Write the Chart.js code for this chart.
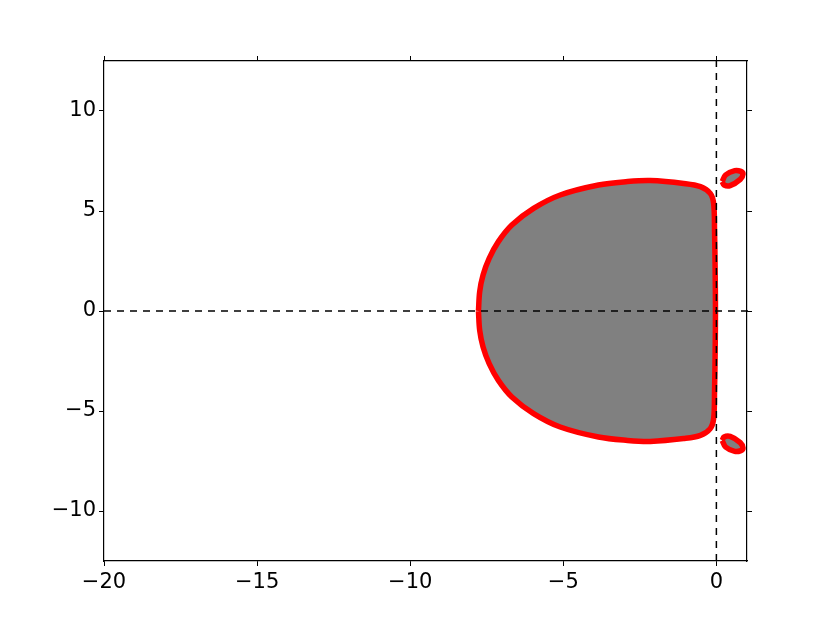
<!DOCTYPE html>
<html>
<head>
<meta charset="utf-8">
<script src="https://cdn.jsdelivr.net/npm/chart.js@4/dist/chart.umd.min.js"></script>
<style>
  html, body { margin: 0; padding: 0; background: #fff; }
  canvas { display: block; }
</style>
</head>
<body>
<canvas id="chart" width="830" height="623"></canvas>
<script>
// stability region boundary (upper half, left to right), mirrored below
const mainX = [-7.77, -7.73, -7.62, -7.42, -7.12, -6.68, -5.97, -5.1, -3.85, -2.9, -2.16, -1.07, -0.52, -0.2, -0.09, -0.06, -0.04, -0.03];
const mainY = [0, 0.97, 1.8, 2.63, 3.47, 4.3, 5.13, 5.8, 6.3, 6.47, 6.52, 6.38, 6.22, 5.88, 5.38, 4.0, 2.0, 0];

// small island near the imaginary axis (upper one), lower one is its mirror
const islandX = [0.19, 0.3, 0.6, 0.8, 0.87, 0.78, 0.45, 0.25, 0.19];
const islandY = [6.47, 6.8, 7.02, 6.98, 6.85, 6.58, 6.27, 6.3, 6.47];

const xTicks = [-20, -15, -10, -5, 0];
const yTicks = [-10, -5, 0, 5, 10];

const minus = v => String(v).replace("-", "\u2212");

// closed outline: upper half forward, lower half backward, back to start
const upper = mainX.map((x, i) => ({ x: x, y: mainY[i] }));
const lower = upper.slice(1, -1).reverse().map(p => ({ x: p.x, y: -p.y }));
const mainShape = upper.concat(lower, [upper[0]]);
const islandUp = islandX.map((x, i) => ({ x: x, y: islandY[i] }));
const islandDown = islandX.map((x, i) => ({ x: x, y: -islandY[i] }));

const regionStyle = {
    borderColor: "#ff0000",
    backgroundColor: "#808080",
    borderWidth: 5.5,
    pointRadius: 0,
    fill: "shape",
    tension: 0.35,
    borderJoinStyle: "round",
};

const dashStyle = {
    borderColor: "#000",
    borderWidth: 1.5,
    borderDash: [7, 6],
    pointRadius: 0,
    fill: false,
    clip: false,
};

const axisFont = { family: "DejaVu Sans", size: 21 };

function fixTicks(list) {
    return s => { s.ticks = list.map(v => ({ value: v })); };
}

new Chart(document.getElementById("chart"), {
    type: "line",
    data: {
        datasets: [
            Object.assign({ data: [{ x: -20, y: 0 }, { x: 1.2, y: 0 }] }, dashStyle),
            Object.assign({ data: [{ x: 0, y: -12.5 }, { x: 0, y: 12.5 }] }, dashStyle),
            Object.assign({ data: mainShape }, regionStyle),
            Object.assign({ data: islandUp }, regionStyle),
            Object.assign({ data: islandDown }, regionStyle),
        ],
    },
    options: {
        responsive: false,
        animation: false,
        layout: { padding: 0 },
        plugins: { legend: { display: false }, tooltip: { enabled: false } },
        scales: {
            x: {
                type: "linear", position: "bottom", min: -20, max: 1,
                afterBuildTicks: fixTicks(xTicks),
                afterFit: s => { s.height = 62; },
                border: { color: "#000", width: 1.2 },
                grid: { drawOnChartArea: false, tickLength: 5, color: "#000" },
                ticks: { color: "#000", font: axisFont, padding: 4, callback: minus },
            },
            x2: {
                type: "linear", position: "top", min: -20, max: 1,
                afterBuildTicks: fixTicks(xTicks),
                afterFit: s => { s.height = 61; },
                border: { color: "#000", width: 1.2 },
                grid: { drawOnChartArea: false, tickLength: 5, color: "#000" },
                ticks: { callback: () => "" },
            },
            y: {
                type: "linear", position: "left", min: -12.5, max: 12.5,
                afterBuildTicks: fixTicks(yTicks),
                afterFit: s => { s.width = 104; },
                border: { color: "#000", width: 1.2 },
                grid: { drawOnChartArea: false, tickLength: 5, color: "#000" },
                ticks: { color: "#000", font: axisFont, padding: 3, callback: minus },
            },
            y2: {
                type: "linear", position: "right", min: -12.5, max: 12.5,
                afterBuildTicks: fixTicks(yTicks),
                afterFit: s => { s.width = 83; },
                border: { color: "#000", width: 1.2 },
                grid: { drawOnChartArea: false, tickLength: 5, color: "#000" },
                ticks: { callback: () => "" },
            },
        },
    },
});
</script>
</body>
</html>
